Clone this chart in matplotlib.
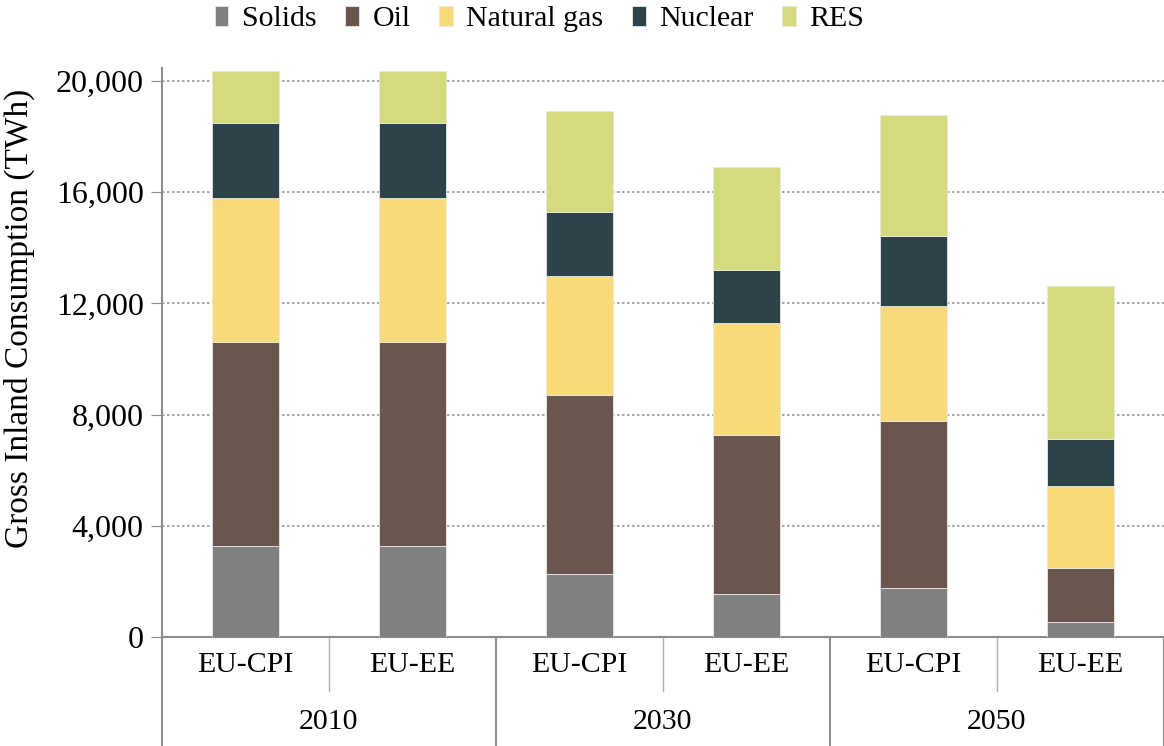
import numpy as np
import matplotlib
matplotlib.use("Agg")
import matplotlib.pyplot as plt
from matplotlib.ticker import FuncFormatter

# Gross inland consumption by fuel (TWh)
scenarios = ["EU-CPI", "EU-EE", "EU-CPI", "EU-EE", "EU-CPI", "EU-EE"]
years     = ["2010", "2030", "2050"]

solids  = [3270, 3270, 2255, 1536, 1781, 536]
oil     = [7350, 7350, 6450, 5745, 5974, 1939]
gas     = [5170, 5170, 4291, 4032, 4137, 2967]
nuclear = [2710, 2710, 2299, 1888, 2529, 1695]
res     = [1850, 1850, 3647, 3702, 4370, 5485]

series = [("Solids", solids, "#808080"),
          ("Oil", oil, "#6A564F"),
          ("Natural gas", gas, "#F9DA7B"),
          ("Nuclear", nuclear, "#2C4449"),
          ("RES", res, "#D4DB7C")]

plt.rcParams["font.family"] = ["Liberation Serif", "DejaVu Serif"]
FS = 21.5
AXC = "#8c8c8c"

fig = plt.figure(figsize=(11.64, 7.46), dpi=100)
ax = fig.add_axes([0.139, 0.1461, 0.861, 0.7627])

x = np.arange(len(scenarios))
bottom = np.zeros(len(scenarios))
for name, vals, col in series:
    ax.bar(x, vals, width=0.4, bottom=bottom, color=col, label=name,
           edgecolor="#e8e8e8", linewidth=0.6, zorder=3)
    bottom += np.array(vals)

ax.set_xlim(-0.5, len(scenarios) - 0.5)
ax.set_ylim(0, 20470)
ax.set_yticks(np.arange(0, 20001, 4000))
ax.yaxis.set_major_formatter(FuncFormatter(lambda v, p: f"{int(v):,}"))
ax.tick_params(axis="y", labelsize=23, direction="out", length=8,
               color=AXC, pad=5)
ax.set_xticks([])
ax.grid(axis="y", linestyle=(0, (1.5, 1.5)), color="#9a9a9a", linewidth=1.2, zorder=0)
ax.set_ylabel("Gross Inland Consumption (TWh)", fontsize=24)
ax.yaxis.set_label_coords(-0.127, 0.56)

for s in ("top", "right"):
    ax.spines[s].set_visible(False)
for s in ("left", "bottom"):
    ax.spines[s].set_color(AXC)
    ax.spines[s].set_linewidth(1.5)

# two-level category axis
trans = ax.get_xaxis_transform()
for i, lab in enumerate(scenarios):
    ax.text(i, -0.049, lab, transform=trans, ha="center", va="center", fontsize=FS)
for j, yr in enumerate(years):
    ax.text(2 * j + 0.5, -0.149, yr, transform=trans, ha="center", va="center", fontsize=FS)
for b in np.arange(-0.5, len(scenarios), 1.0):
    is_group = (round(b + 0.5) % 2 == 0)
    y_end = -0.19 if is_group else -0.095
    ax.plot([b, b], [0, y_end], transform=trans, color=AXC if is_group else "#b0b0b0",
            linewidth=1.5 if is_group else 1.0, clip_on=False)

fig.legend(loc="upper center", bbox_to_anchor=(0.4635, 1.028), ncol=5, frameon=False,
           fontsize=21.5, handlelength=0.46, handleheight=0.65, handletextpad=0.46,
           columnspacing=0.95)

fig.savefig("out.png", dpi=100)
